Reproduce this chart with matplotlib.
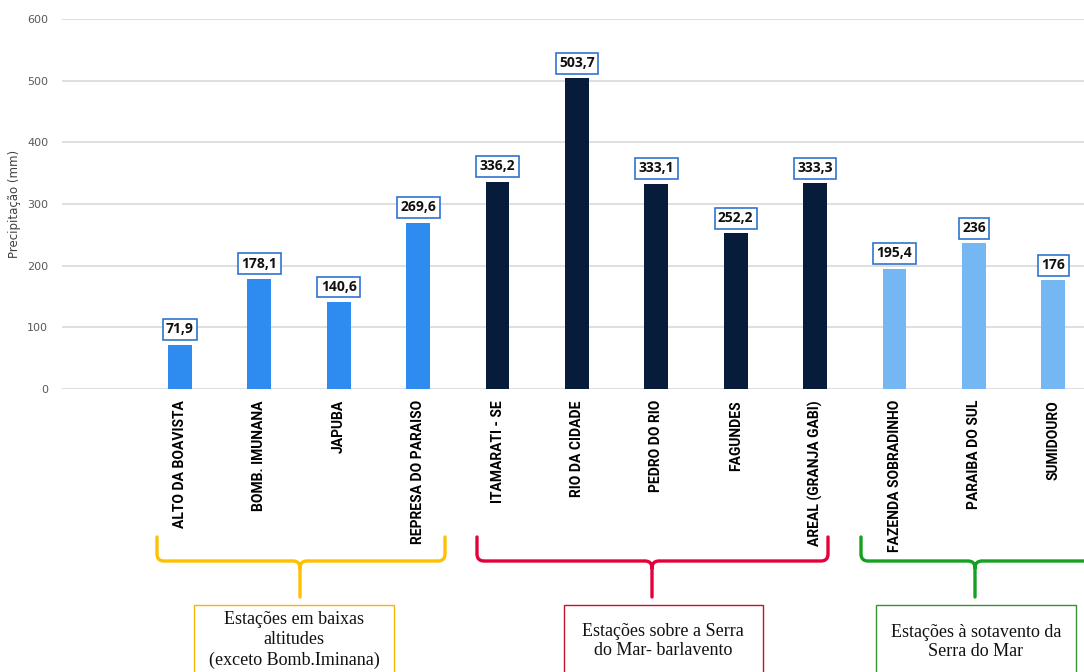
import matplotlib
matplotlib.use("Agg")
import matplotlib.pyplot as plt
from matplotlib.path import Path
from matplotlib.patches import PathPatch, Rectangle

stations = ["ALTO DA BOAVISTA", "BOMB. IMUNANA", "JAPUBA", "REPRESA DO PARAISO",
            "ITAMARATI - SE", "RIO DA CIDADE", "PEDRO DO RIO", "FAGUNDES",
            "AREAL (GRANJA GABI)", "FAZENDA SOBRADINHO", "PARAIBA DO SUL", "SUMIDOURO"]
precip = [71.9, 178.1, 140.6, 269.6, 336.2, 503.7, 333.1, 252.2, 333.3, 195.4, 236, 176]
groups = [0, 0, 0, 0, 1, 1, 1, 1, 1, 2, 2, 2]
group_colors = ["#2E8CF0", "#071B3A", "#74B7F2"]
group_texts = ["Estações em baixas\naltitudes\n(exceto Bomb.Iminana)",
               "Estações sobre a Serra\ndo Mar- barlavento",
               "Estações à sotavento da\nSerra do Mar"]
yticks = [0, 100, 200, 300, 400, 500, 600]

W, H = 1084, 672
fig = plt.figure(figsize=(W / 100, H / 100), dpi=100)
ax = fig.add_axes([62 / W, (H - 389) / H, (W - 62) / W, 370 / H])

x = list(range(len(stations)))
colors = [group_colors[g] for g in groups]
bars = ax.bar(x, precip, width=0.30, color=colors, zorder=3)

ax.set_xlim(-1.486, 11.386)
ax.set_ylim(0, 600)
ax.set_yticks(yticks)
ax.yaxis.grid(True, color="#D9D9D9", linewidth=1.2, zorder=0)
for s in ax.spines.values():
    s.set_visible(False)
ax.tick_params(axis="y", length=0, labelsize=8, labelcolor="#595959", pad=10)
ax.tick_params(axis="x", length=0, pad=8)
ax.set_xticks(x)
ax.set_xticklabels(stations, rotation=90, fontsize=10, fontweight="bold",
                   family=["Liberation Sans Narrow", "Roboto", "DejaVu Sans"], va="top")
ax.set_ylabel("Precipitação (mm)", fontsize=8.5, color="#404040", labelpad=4)

for xi, v in zip(x, precip):
    lbl = f"{v:g}".replace(".", ",")
    ax.annotate(lbl, (xi, v), xytext=(0, 11), textcoords="offset points",
                ha="center", va="center", fontsize=10, fontweight="bold",
                family=["Open Sans", "DejaVu Sans"], color="#111111", zorder=5,
                bbox=dict(boxstyle="square,pad=0.25", fc="white", ec="#2F74D0", lw=1.2))

# overlay in pixel coordinates for brackets and boxes
ov = fig.add_axes([0, 0, 1, 1], facecolor="none")
ov.set_xlim(0, W)
ov.set_ylim(H, 0)
ov.axis("off")

def bracket(x0, x1, xc, color, ytop=537, yh=561, ybot=597, r=7):
    verts = [(x0, ytop), (x0, yh - r), (x0, yh), (x0 + r, yh),
             (xc - r, yh), (xc, yh), (xc, yh + r), (xc, ybot),
             (xc, yh + r), (xc, yh), (xc + r, yh),
             (x1 - r, yh), (x1, yh), (x1, yh - r), (x1, ytop)]
    codes = [Path.MOVETO, Path.LINETO, Path.CURVE3, Path.CURVE3,
             Path.LINETO, Path.CURVE3, Path.CURVE3, Path.LINETO,
             Path.MOVETO, Path.CURVE3, Path.CURVE3,
             Path.LINETO, Path.CURVE3, Path.CURVE3, Path.LINETO]
    ov.add_patch(PathPatch(Path(verts, codes), fc="none", ec=color, lw=2.4,
                           capstyle="round", joinstyle="round"))

bracket(157, 445, 300, "#FFC000")
bracket(477, 828, 652, "#E4003A")
bracket(861, 1095, 975, "#15A020")

boxes = [(194, 394, "#F2B705", 294, 640), (564, 763, "#C0142C", 663, 641),
         (876, 1076, "#3A8F3A", 976, 642)]
for (bx0, bx1, ec, tx, ty), txt in zip(boxes, group_texts):
    ov.add_patch(Rectangle((bx0, 605), bx1 - bx0, 80, fc="white", ec=ec, lw=1.0))
    ov.text(tx, ty, txt, ha="center", va="center", fontsize=13,
            family=["Liberation Serif", "DejaVu Serif"], color="#111111",
            linespacing=1.22)

fig.savefig("out.png", dpi=100)
